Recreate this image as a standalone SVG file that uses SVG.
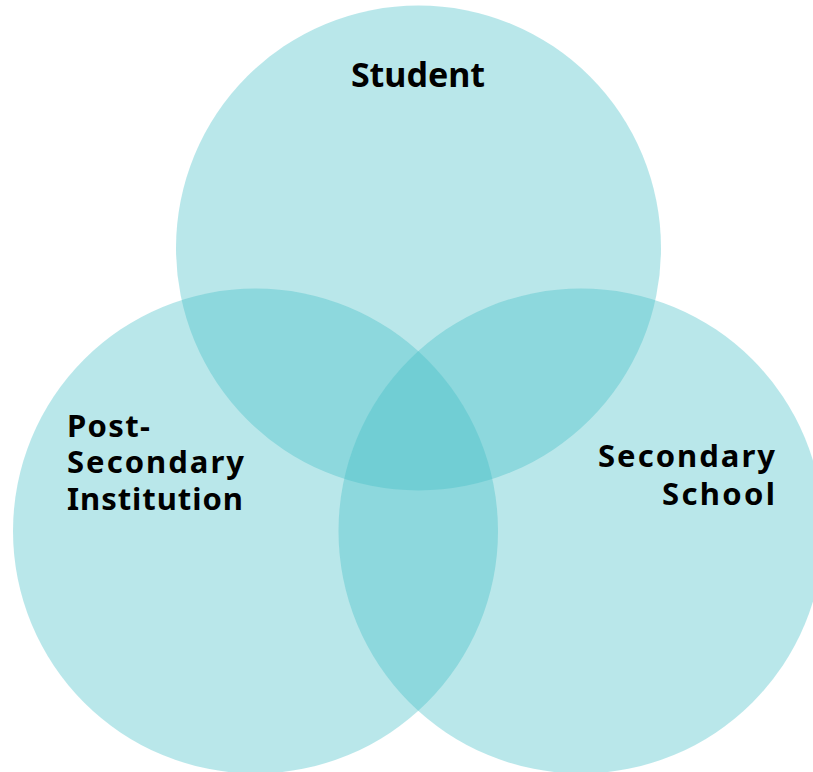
<svg xmlns="http://www.w3.org/2000/svg" width="813" height="772" viewBox="0 0 813 772">
<style>
.c{fill:#42bec6;fill-opacity:0.37}
.t{font-family:"Noto Sans","Open Sans",sans-serif;font-weight:bold;fill:#000}
.s{font-size:31px}
</style>
<rect width="813" height="772" fill="#fff"/>
<g id="student"><circle class="c" cx="418.5" cy="248" r="242.5"/><text class="t" x="418" y="87" font-size="34" text-anchor="middle">Student</text></g>
<g id="post-secondary"><circle class="c" cx="255.5" cy="531" r="242.5"/>
<text class="t s" x="67" y="437" textLength="83" lengthAdjust="spacing">Post-</text>
<text class="t s" x="67" y="473" textLength="177" lengthAdjust="spacing">Secondary</text>
<text class="t s" x="67" y="510" textLength="176" lengthAdjust="spacing">Institution</text></g>
<g id="secondary-school"><circle class="c" cx="581" cy="531" r="242.5"/>
<text class="t s" x="598" y="467" textLength="177" lengthAdjust="spacing">Secondary</text>
<text class="t s" x="662" y="505" textLength="113" lengthAdjust="spacing">School</text></g>
<g id="connectors"/>
</svg>
